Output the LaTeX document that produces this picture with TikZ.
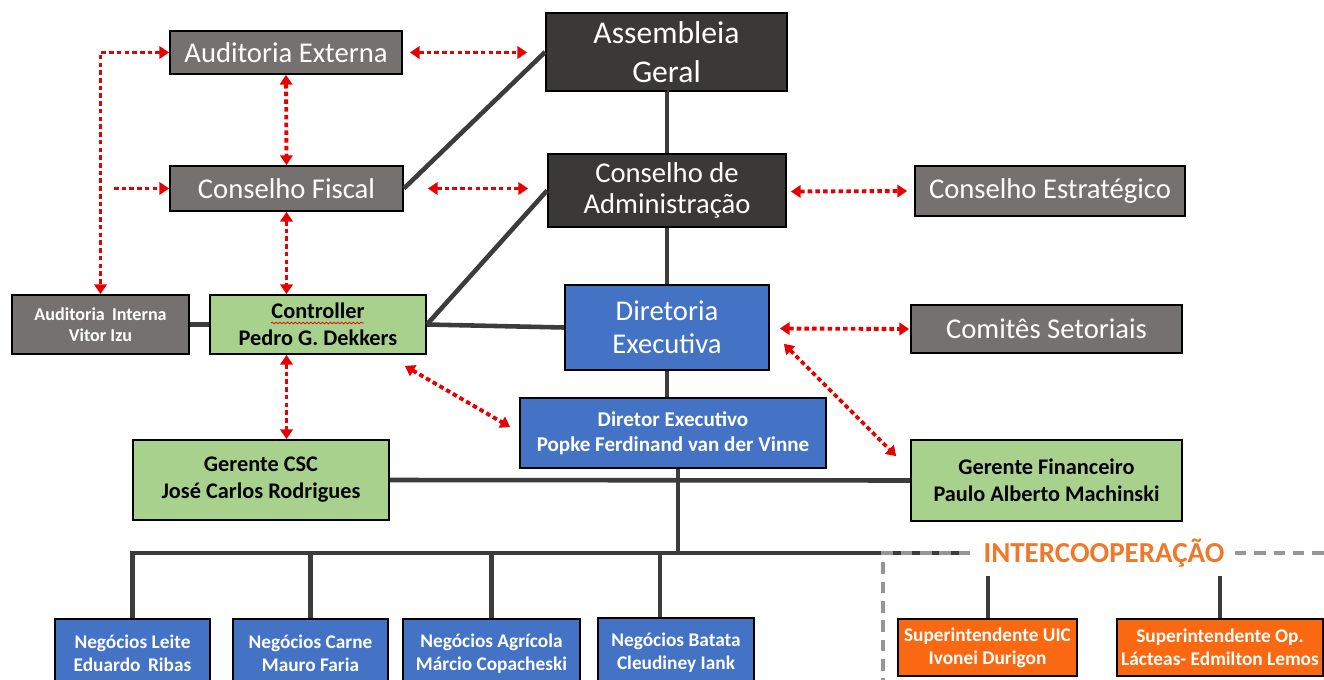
\documentclass[tikz,border=0pt]{standalone}
\usepackage{fontspec}
\setmainfont{Carlito}
\usepackage{tikz}
\usetikzlibrary{positioning, calc, arrows.meta, decorations.pathmorphing}

\definecolor{boxdark}{RGB}{59,56,56}
\definecolor{boxgray}{RGB}{118,113,113}
\definecolor{boxblue}{RGB}{68,114,196}
\definecolor{boxgreen}{RGB}{169,209,142}
\definecolor{boxorange}{RGB}{250,104,18}
\definecolor{txtorange}{RGB}{240,120,40}
\definecolor{linkgray}{RGB}{60,60,60}
\definecolor{relred}{RGB}{232,0,0}
\definecolor{frontgray}{RGB}{150,150,150}

\tikzset{box/.style={draw=black, line width=1pt, inner sep=0pt, align=center}}
\tikzset{size/.style 2 args={minimum width=#1*0.02cm, minimum height=#2*0.02cm}}
\tikzset{darkbox/.style={box, fill=boxdark, text=white, font=\fontsize{16.3}{19}\selectfont}}
\tikzset{graybox/.style={box, fill=boxgray, text=white, font=\fontsize{16.3}{19}\selectfont}}
\tikzset{bluebox/.style={box, fill=boxblue, text=white, font=\fontsize{16.3}{19}\selectfont}}
\tikzset{greenbox/.style={box, fill=boxgreen, text=black, font=\bfseries\fontsize{12.7}{15.4}\selectfont}}
\tikzset{smallbox/.style={box, text=white, font=\bfseries\fontsize{11}{13}\selectfont}}
\tikzset{link/.style={draw=linkgray, line width=2.6pt}}
\tikzset{rel/.style={draw=relred, line width=2.2pt, dash pattern=on 2.6pt off 1.8pt,
    {Triangle[length=5.5pt, width=7pt, fill=relred]}-{Triangle[length=5.5pt, width=7pt, fill=relred]}}}
\tikzset{relone/.style={draw=relred, line width=2.2pt, dash pattern=on 2.6pt off 1.8pt,
    -{Triangle[length=5.5pt, width=7pt, fill=relred]}}}
\tikzset{frontier/.style={draw=frontgray, line width=2.3pt, dash pattern=on 6.6pt off 4.4pt}}

\begin{document}
\begin{tikzpicture}[x=0.02cm, y=-0.02cm]

      \useasboundingbox (0,0) rectangle (1324,679);
      \clip (0,0) rectangle (1324,679);

      % BOARDS

      \node[darkbox, size={241}{78}, font=\fontsize{18}{22.5}\selectfont] (assembl) at (666.5,52) {Assembleia\\Geral};
      \node[darkbox, size={238}{73}, font=\fontsize{16.3}{17.5}\selectfont] (consadm) at (667,190.5) {Conselho de\\Administração};
      \node[graybox, size={232}{43}] (audext) at (286,52.5) {Auditoria Externa};
      \node[graybox, size={233}{45}] (fiscal) at (286.5,188.5) {Conselho Fiscal};
      \node[graybox, size={270}{50}] (estrat) at (1050,191) {Conselho Estratégico};
      \node[graybox, size={271}{48}] (comites) at (1046.5,329) {Comitês Setoriais};

      % EXECUTIVES

      \node[bluebox, size={204}{85}, font=\fontsize{16.3}{18.8}\selectfont] (diretoria) at (667,327.5) {Diretoria\\Executiva};
      \node[bluebox, size={306}{70}, font=\bfseries\fontsize{12}{14.2}\selectfont] (direxec) at (673,433) {Diretor Executivo\\Popke Ferdinand van der Vinne};
      \node[smallbox, fill=boxgray, size={177}{59}, font=\bfseries\fontsize{10.3}{12}\selectfont] (audint) at (100.5,324.5) {Auditoria\, Interna\\Vitor Izu};
      \node[greenbox, size={216}{59}] (controller) at (318,324.5) {Controller\\Pedro G. Dekkers};
      \node[greenbox, size={256}{80}] (csc) at (261,480) {Gerente CSC\\José Carlos Rodrigues};
      \node[greenbox, size={271}{81}] (financ) at (1046.5,480.5) {Gerente Financeiro\\Paulo Alberto Machinski};

      % BUSINESS UNITS

      \node[smallbox, fill=boxblue, size={155}{69}] (leite) at (132.5,653.5) {Negócios Leite\\Eduardo\, Ribas};
      \node[smallbox, fill=boxblue, size={155}{69}] (carne) at (310.5,653.5) {Negócios Carne\\Mauro Faria};
      \node[smallbox, fill=boxblue, size={177}{69}] (agricola) at (491.5,653.5) {Negócios Agrícola\\Márcio Copacheski};
      \node[smallbox, fill=boxblue, size={156}{70}] (batata) at (676,653) {Negócios Batata\\Cleudiney Iank};
      \node[smallbox, fill=boxorange, size={179}{57}] (uic) at (987.5,647.5) {Superintendente UIC\\Ivonei Durigon};
      \node[smallbox, fill=boxorange, size={206}{57}] (opl) at (1220,647.5) {Superintendente Op.\\Lácteas- Edmilton Lemos};

      \node[inner xsep=10*0.02cm, text=txtorange, font=\bfseries\fontsize{16.5}{19}\selectfont] (interc) at (1104,553) {INTERCOOPERAÇÃO};

      % COORDINATES

      \coordinate (busR) at (965,553);
      \coordinate (trunk) at (678,553);
      \coordinate (batatadrop) at (660,553);
      \coordinate (frontbase) at (883,690);
      \coordinate (uictop) at (988,576);
      \coordinate (opltop) at (1220,576);
      \coordinate (fisctap) at (114,188.5);

      % LINES

      \draw[link] (fiscal.east) -- (assembl.west);
      \draw[link] (assembl.south) -- (consadm.south |- assembl.south) -- (consadm.north);
      \draw[link] (consadm.south) -- (diretoria.north);
      \draw[link] (controller.east) -- (consadm.west);
      \draw[link] (controller.east) -- (diretoria.west);
      \draw[link] (audint.east) -- (controller.west);
      \draw[link] (diretoria.south) -- (diretoria.south |- direxec.north);
      \draw[link] (trunk |- direxec.south) -- (trunk);
      \draw[link] (csc.east) -- (financ.west);
      \draw[link] (leite.north) |- (busR);
      \draw[link] (carne.north) -- (carne.north |- busR);
      \draw[link] (agricola.north) -- (agricola.north |- busR);
      \draw[link] (batatadrop) -- (batatadrop |- batata.north);
      \draw[link] (uictop) -- (uictop |- uic.north);
      \draw[link] (opltop) -- (opltop |- opl.north);

      \draw[frontier] (frontbase) |- (interc.west);
      \draw[frontier] (interc.east) -- ++(100,0);

      % RELATIONS

      \draw[rel] ($(audext.east)+(7,0)$) -- ($(assembl.west |- audext.east)+(-18,0)$);
      \draw[rel] (audext.south) -- (fiscal.south |- fiscal.north);
      \draw[rel] (audext.west) -| (audint.north);
      \draw[relone] (fisctap) -- (fiscal.west);
      \draw[rel] ($(fiscal.east)+(24,0)$) -- ($(consadm.west |- fiscal.east)+(-19,0)$);
      \draw[rel] (fiscal.south) -- (fiscal.south |- controller.north);
      \draw[rel] ($(consadm.east)+(4,1)$) -- ($(estrat.west)+(-7,0)$);
      \draw[rel] ($(diretoria.east)+(10,1)$) -- ($(comites.west)+(-1,0)$);
      \draw[rel] ($(diretoria.south east)+(14,-27)$) -- ($(financ.north west)+(-14,17)$);
      \draw[rel] ($(controller.south east)+(-22,11)$) -- ($(direxec.west)+(-9,-6)$);
      \draw[rel] (fiscal.south |- controller.south) -- (fiscal.south |- csc.north);

      % SPELL MARK

      \draw[relred, line width=0.4pt, decorate, decoration={snake, amplitude=0.5pt, segment length=2.2pt}]
        ($(controller.center)+(-47,-1.5)$) -- ($(controller.center)+(46,-1.5)$);

\end{tikzpicture}
\end{document}
